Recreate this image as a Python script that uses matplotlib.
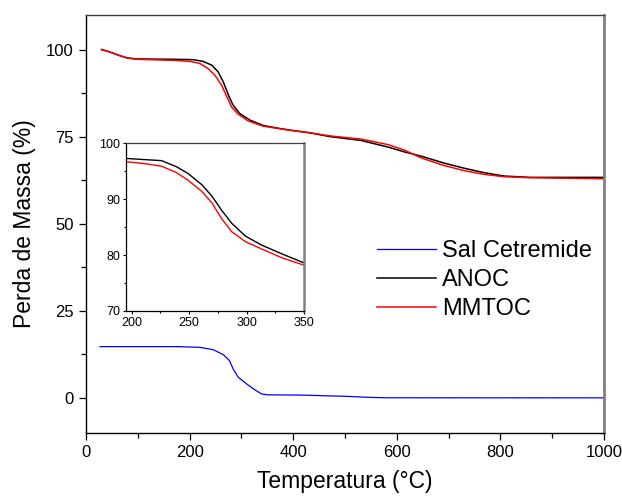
import matplotlib
matplotlib.use("Agg")
import matplotlib.pyplot as plt
from matplotlib.ticker import MultipleLocator

plt.rcParams["font.family"] = ["Liberation Sans", "DejaVu Sans"]

# ── data (main panel) ────────────────────────────────────────────────────────
temp_anoc = [30, 46, 62, 79, 98, 169, 207, 226, 243, 255, 265, 275, 284, 297,
             317, 342, 375, 407, 432, 471, 531, 583, 615, 647, 689, 728, 767,
             806, 857, 1000]
mass_anoc = [100.0, 99.3, 98.4, 97.6, 97.3, 97.2, 97.1, 96.6, 95.5, 93.6,
             90.7, 86.9, 84.0, 81.6, 79.7, 78.2, 77.3, 76.6, 76.1, 75.0, 73.9,
             72.0, 70.6, 69.4, 67.5, 66.0, 64.7, 63.7, 63.3, 63.3]

temp_mmtoc = [30, 46, 62, 79, 98, 169, 201, 220, 236, 249, 262, 272, 281, 294,
              313, 342, 394, 432, 471, 531, 583, 615, 647, 689, 728, 767, 806,
              857, 1000]
mass_mmtoc = [100.0, 99.3, 98.4, 97.6, 97.2, 96.9, 96.6, 96.0, 94.5, 92.6,
              89.7, 86.4, 83.5, 81.4, 79.5, 78.0, 76.8, 76.1, 75.2, 74.3, 72.7,
              71.1, 68.9, 66.8, 65.3, 64.2, 63.5, 63.2, 62.9]

temp_sal = [27, 181, 220, 246, 265, 277, 284, 294, 310, 326, 339, 352, 413,
            497, 545, 580, 1000]
mass_sal = [14.7, 14.7, 14.5, 13.8, 12.4, 10.7, 8.3, 5.9, 4.0, 2.3, 1.1, 0.86,
            0.8, 0.46, 0.15, 0.02, 0.0]

# inset panel
inset_temp = [195, 210, 226, 239, 249, 261, 270, 278, 287, 299, 313, 331, 350]
inset_anoc = [97.3, 97.1, 96.9, 95.8, 94.6, 92.6, 90.5, 88.1, 85.7, 83.4, 81.8,
              80.2, 78.6]
inset_mmtoc = [96.7, 96.4, 95.9, 94.75, 93.4, 91.4, 89.3, 86.6, 84.2, 82.4,
               81.1, 79.5, 78.2]

x_ticks = [0, 200, 400, 600, 800, 1000]
y_ticks = [0, 25, 50, 75, 100]
inset_x_ticks = [200, 250, 300, 350]
inset_y_ticks = [70, 80, 90, 100]


def style_spines(ax, lw):
    ax.spines["left"].set_color("black")
    ax.spines["bottom"].set_color("black")
    ax.spines["top"].set_color("#404040")
    ax.spines["right"].set_color("#808080")
    for s in ("left", "bottom", "top"):
        ax.spines[s].set_linewidth(lw)
    ax.spines["right"].set_linewidth(lw * 2)


fig = plt.figure(figsize=(6.22, 4.99), dpi=100)
ax = fig.add_axes([0.1383, 0.1329, 0.8328, 0.8376])

ax.plot(temp_sal, mass_sal, color="#0000ff", lw=0.9, label="Sal Cetremide")
ax.plot(temp_anoc, mass_anoc, color="black", lw=1.1, label="ANOC")
ax.plot(temp_mmtoc, mass_mmtoc, color="#ff0000", lw=1.1, label="MMTOC")

ax.set_xlim(0, 1000)
ax.set_ylim(-10, 110)
ax.set_xticks(x_ticks)
ax.set_yticks(y_ticks)
ax.xaxis.set_minor_locator(MultipleLocator(100))
ax.yaxis.set_minor_locator(MultipleLocator(12.5))
ax.tick_params(which="major", direction="out", length=5, width=0.9,
               labelsize=12, pad=4, top=False, right=False)
ax.tick_params(which="minor", direction="out", length=3.5, width=0.9,
               top=False, right=False)
style_spines(ax, 1.0)

ax.set_xlabel("Temperatura (°C)", fontsize=16.5, labelpad=7)
ax.set_ylabel("Perda de Massa (%)", fontsize=16.5, labelpad=7)

ax.legend(loc="upper left", bbox_to_anchor=(377 / 622, 1 - 240 / 499),
          bbox_transform=fig.transFigure, frameon=False, fontsize=17,
          handlelength=2.5, handletextpad=0.25, labelspacing=0.3,
          borderpad=0, borderaxespad=0)

# ── inset: zoom on the main decomposition step ───────────────────────────────
ins = fig.add_axes([0.2026, 0.3768, 0.2861, 0.3360])
ins.plot(inset_temp, inset_mmtoc, color="#ff0000", lw=1.0)
ins.plot(inset_temp, inset_anoc, color="black", lw=1.0)
ins.set_xlim(195, 350)
ins.set_ylim(70, 100)
ins.set_xticks(inset_x_ticks)
ins.set_yticks(inset_y_ticks)
ins.xaxis.set_minor_locator(MultipleLocator(25))
ins.yaxis.set_minor_locator(MultipleLocator(5))
ins.tick_params(which="major", direction="out", length=2.5, width=0.8,
                labelsize=9, pad=1.5)
ins.tick_params(which="minor", direction="out", length=1.5, width=0.8)
style_spines(ins, 0.9)

fig.savefig("out.png", dpi=100)
